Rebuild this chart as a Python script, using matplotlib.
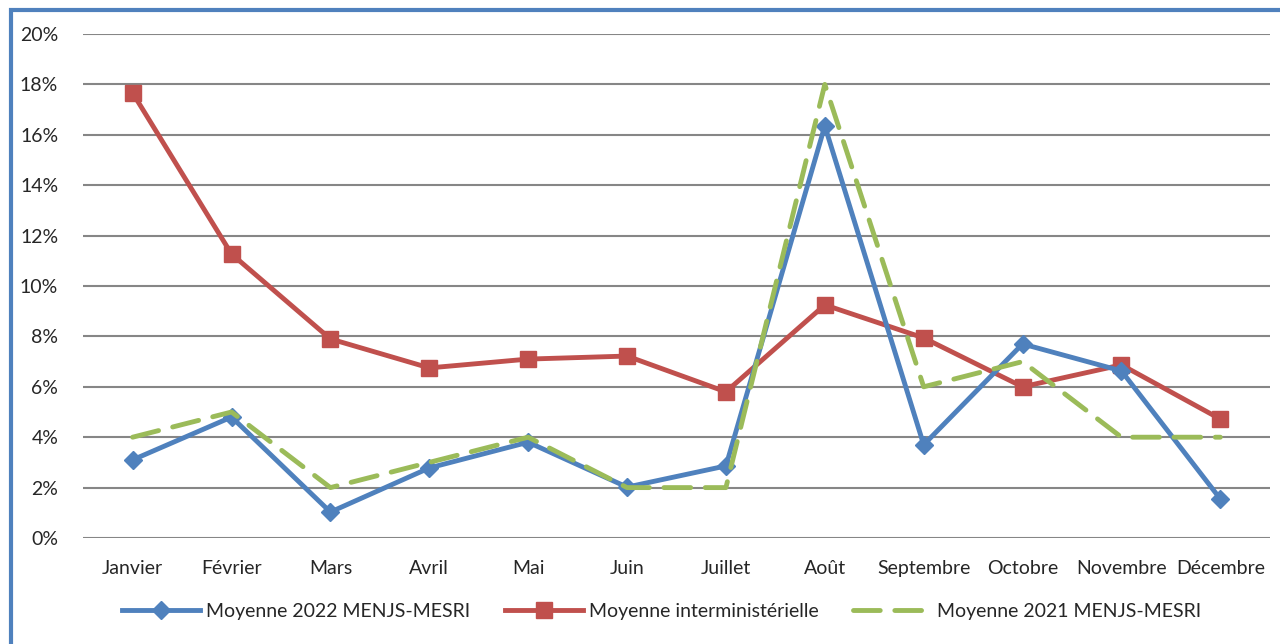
import matplotlib.pyplot as plt
from matplotlib.patches import Rectangle
from matplotlib.ticker import PercentFormatter

plt.rcParams['font.family'] = ['Lato', 'DejaVu Sans']

months = ['Janvier', 'Février', 'Mars', 'Avril', 'Mai', 'Juin', 'Juillet',
          'Août', 'Septembre', 'Octobre', 'Novembre', 'Décembre']
moy_2022 = [3.1, 4.8, 1.03, 2.78, 3.8, 2.02, 2.86, 16.35, 3.7, 7.7, 6.63, 1.55]
moy_inter = [17.66, 11.27, 7.9, 6.75, 7.1, 7.22, 5.8, 9.25, 7.94, 6.0, 6.87, 4.72]
moy_2021 = [4, 5, 2, 3, 4, 2, 2, 18, 6, 7, 4, 4]


def main():
    fig = plt.figure(figsize=(12.8, 6.44), dpi=100)
    ax = fig.add_axes([0.065, 0.1646, 0.927, 0.7826])
    x = range(len(months))

    ax.plot(x, moy_2022, color='#4F81BD', lw=3.5, marker='D', ms=9,
            label='Moyenne 2022 MENJS-MESRI', zorder=3)
    ax.plot(x, moy_inter, color='#C0504D', lw=3.5, marker='s', ms=11,
            label='Moyenne interministérielle', zorder=2)
    ax.plot(x, moy_2021, color='#9BBB59', lw=3.5, ls=(0, (5.5, 3)),
            dash_capstyle='round', label='Moyenne 2021 MENJS-MESRI', zorder=4)

    ax.set_xlim(-0.5, 11.5)
    ax.set_ylim(0, 20)
    ax.set_yticks(range(0, 21, 2))
    ax.yaxis.set_major_formatter(PercentFormatter(decimals=0))
    ax.set_xticks(list(x))
    ax.set_xticklabels(months)
    ax.grid(axis='y', color='#868686', lw=1.5)
    ax.set_axisbelow(True)
    for s in ax.spines.values():
        s.set_visible(False)
    ax.tick_params(length=0, labelsize=14, colors='#262626', pad=16)
    ax.tick_params(axis='y', pad=18)
    ax.patch.set_alpha(0)

    fig.legend(loc='center', bbox_to_anchor=(0.517, 0.05), ncol=3, frameon=False,
               fontsize=14, handlelength=4, columnspacing=1.8, handletextpad=0.3,
               labelcolor='#262626')

    # blue frame (left and top edges only visible)
    fig.patches.append(Rectangle((0.0085, -0.1), 1.1, 1.085, transform=fig.transFigure,
                                 fill=False, edgecolor='#4F81BD', lw=3))

    fig.savefig('out.png', dpi=100)


if __name__ == "__main__":
    main()
